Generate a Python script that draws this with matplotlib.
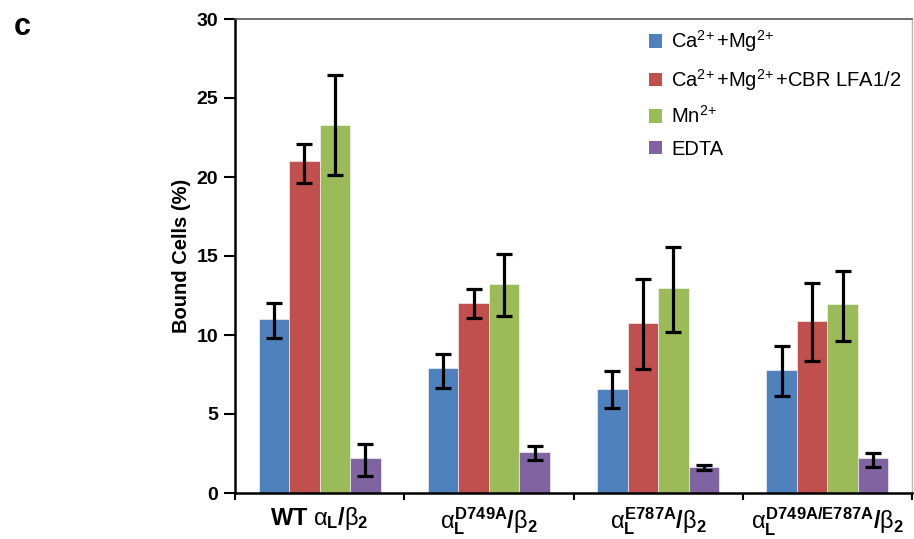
import numpy as np
import matplotlib
matplotlib.use('Agg')
import matplotlib.pyplot as plt
from matplotlib.patches import Patch

plt.rcParams['font.family'] = ['Liberation Sans', 'DejaVu Sans']
plt.rcParams['mathtext.fontset'] = 'custom'
plt.rcParams['mathtext.rm'] = 'Liberation Sans'
plt.rcParams['mathtext.it'] = 'Liberation Sans'
plt.rcParams['mathtext.bf'] = 'Liberation Sans:bold'

# ---- Data ----
groups = [r'WT $\alpha_\mathregular{L}$/$\beta_\mathregular{2}$',
          r'$\alpha_\mathregular{L}^\mathbf{D749A}$/$\beta_\mathregular{2}$',
          r'$\alpha_\mathregular{L}^\mathbf{E787A}$/$\beta_\mathregular{2}$',
          r'$\alpha_\mathregular{L}^\mathbf{D749A/E787A}$/$\beta_\mathregular{2}$']
series = [r'Ca$^{2\!+}$+Mg$^{2\!+}$',
          r'Ca$^{2\!+}$+Mg$^{2\!+}$+CBR LFA1/2',
          r'Mn$^{2\!+}$',
          'EDTA']
colors = ['#4F81BD', '#C0504D', '#9BBB59', '#8064A2']

ca_mg = [11.0, 7.9, 6.6, 7.8]
ca_mg_cbr = [21.0, 12.05, 10.75, 10.9]
mn = [23.3, 13.2, 12.95, 11.95]
edta = [2.2, 2.6, 1.65, 2.2]

# error bar ends (low, high)
ca_mg_lo = [9.8, 6.66, 5.36, 6.14]
ca_mg_hi = [12.0, 8.78, 7.74, 9.28]
ca_mg_cbr_lo = [19.65, 11.06, 7.83, 8.35]
ca_mg_cbr_hi = [22.1, 12.9, 13.54, 13.27]
mn_lo = [20.13, 11.2, 10.17, 9.64]
mn_hi = [26.47, 15.1, 15.6, 14.05]
edta_lo = [1.1, 2.11, 1.48, 1.63]
edta_hi = [3.08, 2.96, 1.78, 2.55]

means = [ca_mg, ca_mg_cbr, mn, edta]
lows = [ca_mg_lo, ca_mg_cbr_lo, mn_lo, edta_lo]
highs = [ca_mg_hi, ca_mg_cbr_hi, mn_hi, edta_hi]

fig = plt.figure(figsize=(9.14, 5.39), dpi=100)
ax = fig.add_axes([235 / 914, 1 - 493 / 539, 677 / 914, 474 / 539])

x = np.arange(len(groups))
w = 0.18
offsets = (np.arange(4) - 1.5) * w
for i in range(4):
    m = np.array(means[i])
    yerr = [m - np.array(lows[i]), np.array(highs[i]) - m]
    ax.bar(x + offsets[i], m, w, color=colors[i], edgecolor='white', linewidth=0.4,
           label=series[i], zorder=2)
    ax.errorbar(x + offsets[i], m, yerr=yerr, fmt='none', ecolor='black',
                elinewidth=2.3, capsize=5.5, capthick=2.3, zorder=3)

ax.set_xlim(-0.5, 3.5)
ax.set_ylim(0, 30)
ax.set_yticks(range(0, 31, 5))
ax.set_yticklabels([str(v) for v in range(0, 31, 5)], fontsize=14, fontweight='bold')
ax.tick_params(axis='y', direction='out', length=8, width=1.5, pad=4)

# group boundary ticks on x, labels centered on groups
ax.set_xticks([-0.5, 0.5, 1.5, 2.5, 3.5])
ax.set_xticklabels([])
ax.set_xticks(x, minor=True)
ax.set_xticklabels(groups, minor=True, fontsize=17, fontweight='bold')
ax.tick_params(axis='x', which='major', direction='out', length=5, width=1.5)
ax.tick_params(axis='x', which='minor', length=0, pad=9)

ax.set_ylabel('Bound Cells (%)', fontsize=14.5, fontweight='bold', labelpad=4)

ax.spines['left'].set_linewidth(1.8)
ax.spines['bottom'].set_linewidth(1.8)
ax.spines['top'].set_color('#555555')
ax.spines['top'].set_linewidth(1.2)
ax.spines['right'].set_color('#bbbbbb')
ax.spines['right'].set_linewidth(1.0)

handles = [Patch(facecolor=c, edgecolor='none') for c in colors]
ax.legend(handles, series, loc='upper right', bbox_to_anchor=(1.005, 1.01),
          frameon=False, fontsize=14.5, handlelength=0.65, handleheight=0.65,
          handletextpad=0.45, labelspacing=0.62, borderaxespad=0.3)

fig.text(14 / 914, 1 - 27 / 539, 'c', fontsize=22, fontweight='bold', va='center')

plt.savefig('out.png', dpi=100)
plt.close()
